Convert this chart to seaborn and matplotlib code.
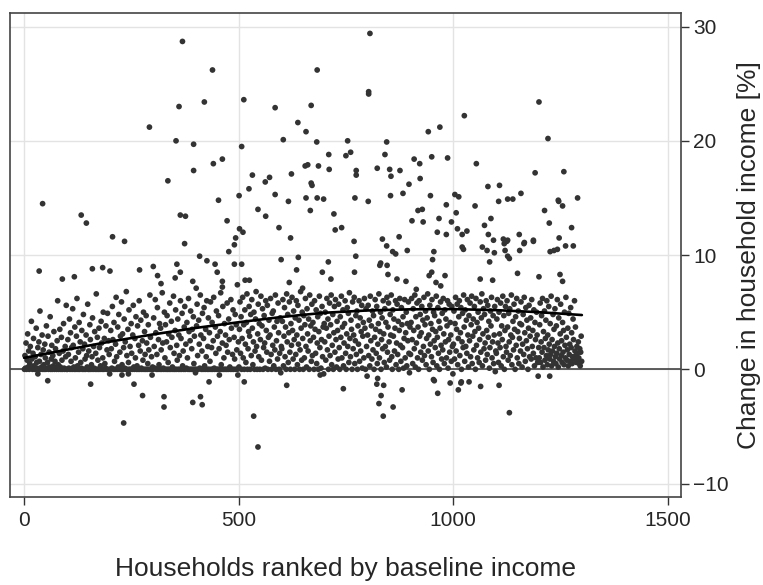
import numpy as np
import pandas as pd
import seaborn as sns
import matplotlib.pyplot as plt

sns.set_style('white')
plt.rcParams['font.family'] = ['Liberation Sans', 'DejaVu Sans']

# households far off the main band (rank, change in %)
outlier_rank = [
    369, 439, 361, 420, 512, 292, 354, 395, 507, 462, 441, 395, 335, 532, 524, 501, 453,
    806, 683, 803, 803, 585, 669, 638, 657, 604, 682, 754, 845, 710, 750, 761, 841, 942,
    969, 1026, 909, 922, 950, 987, 1054, 655, 661, 686, 711, 823, 852, 876, 855, 774, 774,
    623, 562, 572, 669, 671, 897, 923, 1081, 1108, 585, 657, 683, 698, 771, 854, 883, 947,
    1004, 1013, 1200, 1221, 1191, 1258, 1158, 1127, 1139, 1290, 1245,
    43, 133, 145, 206, 234, 364, 376, 374, 473, 477, 545, 502, 510, 493, 490, 409, 426,
    445, 356, 490, 507, 35, 159, 183, 200, 269, 301, 364, 450, 89, 117, 311, 319, 352,
    393, 401, 462, 462, 515, 525, 497,
    616, 563, 667, 722, 802, 984, 918, 928, 904, 930, 967, 996, 1007, 1051, 1106, 1088,
    1073, 594, 725, 740, 621, 769, 874, 835, 845, 859, 866, 893, 963, 984, 1010, 1021,
    1021, 1024, 1032, 1082, 1094, 1117, 1125, 1068, 1079, 1096, 1121, 1127, 955, 599, 639,
    709, 773, 831, 829, 846, 952, 1085, 635, 695, 715, 770, 848, 869, 890, 914, 950, 944,
    960, 971, 981, 1063, 1092, 618, 649,
    1246, 1255, 1213, 1224, 1276, 1119, 1127, 1154, 1166, 1165, 1187, 1187, 1155, 1247,
    1262, 1280, 1226, 1235, 1243, 1131, 1150, 1200, 1249, 1255,
    55, 155, 256, 276, 232, 326, 326, 393, 411, 415, 431, 513, 535, 545, 612, 744, 822,
    838, 832, 827, 837, 860, 881, 956, 964, 1012, 1019, 1037, 1064, 1107, 1131, 32, 228,
    243, 455, 690, 824, 954, 993, 1018, 1225,
]
outlier_change = [
    28.7, 26.2, 23.0, 23.4, 23.6, 21.2, 20.0, 19.7, 19.5, 18.4, 18.0, 17.4, 16.5, 17.0, 15.8, 15.2, 14.8,
    29.4, 26.2, 24.3, 24.1, 22.9, 23.1, 21.6, 20.8, 20.1, 19.9, 20.0, 19.9, 18.8, 18.7, 19.0, 18.8, 20.8,
    21.2, 22.2, 18.4, 18.0, 18.6, 18.5, 18.0, 17.8, 17.9, 17.8, 17.5, 17.6, 17.5, 17.4, 16.9, 17.4, 17.0,
    17.1, 16.4, 16.8, 16.3, 16.1, 16.2, 16.7, 16.0, 16.1, 15.3, 15.0, 15.0, 14.9, 15.0, 15.2, 15.4, 15.2,
    15.3, 15.1, 23.4, 20.2, 17.2, 17.3, 15.4, 14.9, 14.9, 15.0, 14.8,
    14.5, 13.5, 12.8, 11.6, 11.2, 13.5, 13.4, 11.0, 13.0, 10.3, 14.0, 12.3, 12.0, 11.5, 10.9, 9.9, 9.5,
    9.2, 9.2, 9.2, 9.2, 8.6, 8.8, 8.9, 8.6, 8.7, 9.0, 8.5, 8.5, 7.9, 8.1, 8.2, 7.5, 8.0,
    7.7, 7.1, 7.7, 7.2, 7.8, 7.8, 7.4,
    14.7, 13.4, 13.9, 13.6, 14.7, 14.4, 13.9, 14.0, 13.0, 12.9, 13.2, 12.9, 13.7, 14.3, 14.7, 13.2,
    12.6, 12.4, 12.2, 12.4, 11.5, 11.2, 11.6, 11.4, 10.8, 10.3, 10.1, 10.4, 12.0, 11.8, 12.3, 11.8,
    10.7, 10.5, 12.1, 11.8, 11.3, 11.4, 11.2, 10.7, 10.4, 10.2, 10.4, 9.9, 10.3, 9.6, 9.8,
    9.4, 9.9, 9.3, 9.1, 9.1, 9.6, 9.4, 8.7, 8.5, 7.9, 8.5, 8.3, 7.9, 7.7, 7.0, 8.5, 8.2,
    7.6, 7.3, 8.2, 7.9, 7.8, 7.6, 7.1,
    14.7, 14.3, 13.9, 12.8, 12.4, 11.0, 11.3, 11.8, 11.1, 11.0, 11.3, 11.2, 10.4, 11.5,
    10.8, 10.8, 10.3, 10.4, 10.5, 9.7, 8.4, 8.1, 8.3, 7.7,
    -1.0, -1.3, -1.3, -2.3, -4.7, -2.4, -3.3, -2.9, -2.4, -3.1, -1.1, -1.1, -4.1, -6.8, -1.4, -1.7, -1.3,
    -1.4, -2.3, -3.0, -4.1, -3.3, -1.8, -1.0, -2.1, -1.8, -1.1, -1.1, -1.5, -1.4, -3.8, -0.4, -0.5,
    -0.4, -0.5, -0.5, -0.8, -0.9, -1.2, -1.2, -0.6,
]

# main band, one list per block of 100 ranked households
band_blocks = [
    [0.0, 1.2, 0.1, 2.3, 0.0, 0.8, 3.1, 0.2, 1.6, 0.0, 0.5, 2.0, 0.1, 4.2, 0.9, 0.0, 1.4, 2.7, 0.3, 0.0,
     1.1, 0.0, 3.6, 0.6, 0.1, 1.9, 0.0, 2.4, 0.7, 5.1, 0.0, 1.3, 0.2, 3.0, 0.0, 1.7, 0.4, 0.0, 2.2, 1.0,
     0.0, 3.8, 0.1, 0.6, 2.9, 0.0, 1.5, 0.2, 4.6, 0.0, 0.9, 2.1, 0.0, 1.2, 0.3, 3.3, 0.0, 0.7, 1.8, 0.1,
     0.0, 2.5, 6.0, 0.4, 0.0, 1.4, 3.5, 0.2, 0.0, 2.8, 0.8, 0.0, 1.6, 4.0, 0.1, 0.0, 2.0, 1.1, 5.6, 0.0],
    [0.0, 2.6, 1.3, 0.1, 4.4, 0.0, 3.2, 0.7, 1.9, 0.0, 5.3, 2.1, 0.2, 0.0, 3.7, 1.0, 0.0, 2.9, 6.2, 0.3,
     0.0, 1.5, 4.1, 0.0, 2.4, 0.6, 0.1, 3.4, 0.0, 1.8, 4.8, 0.0, 2.2, 0.9, 0.0, 3.0, 1.2, 0.2, 5.7, 0.0,
     1.6, 0.0, 3.9, 2.6, 0.0, 0.4, 1.1, 4.5, 0.0, 2.0, 0.1, 3.3, 0.0, 1.4, 6.6, 0.0, 2.8, 0.8, 0.0, 3.6,
     1.9, 0.0, 0.3, 4.2, 2.3, 0.0, 1.0, 5.0, 0.0, 2.7, 0.5, 0.1, 3.8, 0.0, 1.7, 4.9, 0.0, 2.5, 1.3, -0.4],
    [0.0, 3.4, 1.8, 0.1, 5.5, 2.6, 0.0, 4.1, 0.7, 0.0, 2.2, 6.3, 1.1, 0.0, 3.7, 0.2, 4.8, 0.0, 1.5, 2.9,
     0.0, 5.9, 0.4, 3.1, 0.0, 1.9, 4.4, 0.1, 2.4, 0.0, 6.8, 1.2, 0.0, 3.5, 0.6, 5.2, 0.0, 2.0, 0.0, 4.0,
     1.4, 0.0, 3.0, 5.6, 0.2, 0.0, 2.7, 1.0, 4.6, 0.0, 0.3, 3.8, 0.0, 2.1, 6.0, 0.0, 1.6, 4.3, 0.1, 0.0,
     2.5, 0.8, 5.0, 0.0, 3.3, 1.3, 0.0, 4.7, 2.3, 0.0, 0.5, 3.9, 1.7, 0.0, 6.5, 2.8, 0.0, 1.1, -0.5, 0.2],
    [0.0, 4.5, 2.0, 0.1, 6.1, 3.2, 0.0, 1.3, 5.4, 0.0, 2.6, 0.4, 4.0, 0.0, 3.6, 1.7, 0.0, 6.7, 2.3, 0.1,
     0.0, 5.0, 1.0, 3.9, 0.0, 2.4, 4.7, 0.0, 0.6, 3.1, 0.0, 5.8, 1.9, 0.0, 4.2, 2.8, 0.2, 0.0, 6.4, 1.4,
     0.0, 3.4, 5.2, 0.0, 2.1, 0.8, 4.4, 0.0, 3.0, 1.2, 0.0, 6.0, 2.7, 0.0, 4.9, 0.3, 1.6, 0.0, 3.7, 5.5,
     0.0, 2.2, 0.1, 4.1, 1.0, 0.0, 6.2, 3.3, 0.0, 2.5, 5.1, 0.0, 1.8, 3.5, 0.0, 4.6, 0.5, 2.9, 0.0, -0.3],
    [0.0, 3.8, 5.7, 1.2, 0.0, 4.3, 2.2, 0.1, 6.5, 3.0, 0.0, 1.6, 4.9, 0.0, 2.7, 5.4, 0.3, 0.0, 3.5, 1.1,
     6.0, 0.0, 2.0, 4.5, 0.0, 3.2, 0.7, 5.9, 0.0, 1.9, 4.1, 0.0, 2.5, 6.3, 0.1, 0.0, 3.7, 1.4, 5.1, 0.0,
     2.9, 0.0, 4.7, 1.8, 0.0, 3.3, 6.7, 0.4, 0.0, 2.3, 5.5, 0.0, 1.0, 4.0, 0.0, 3.0, 2.1, 0.0, 5.8, 1.5,
     0.0, 4.4, 2.6, 0.2, 0.0, 6.1, 3.6, 0.0, 1.3, 5.2, 0.0, 2.8, 0.9, 4.8, 0.0, 3.9, 1.7, 0.0, -0.5, 2.4],
    [0.2, 3.5, 5.9, 1.4, 4.6, 0.0, 2.7, 6.3, 1.0, 3.9, 0.0, 5.2, 2.2, 0.6, 4.1, 6.6, 0.0, 1.8, 3.3, 5.5,
     2.9, 0.0, 4.8, 1.2, 6.1, 3.6, 0.4, 2.4, 5.0, 0.0, 1.6, 4.4, 6.8, 2.0, 0.0, 3.1, 5.7, 1.1, 4.0, 0.0,
     2.6, 6.4, 0.8, 3.8, 5.3, 0.0, 1.9, 4.7, 2.3, 0.1, 6.0, 3.4, 1.5, 5.6, 0.0, 2.8, 4.3, 0.7, 3.0, 6.2,
     1.3, 0.0, 4.9, 2.1, 5.1, 0.3, 3.7, 1.7, 6.5, 0.0, 2.5, 4.2, 0.9, 5.8, 3.2, 0.0, 1.4, 4.5, -0.3, 2.0],
    [1.8, 4.2, 6.1, 0.3, 2.9, 5.4, 1.1, 3.7, 0.0, 6.6, 2.4, 4.8, 0.6, 3.2, 5.9, 1.5, 0.0, 4.0, 2.1, 6.3,
     3.4, 0.9, 5.1, 2.6, 0.0, 4.5, 1.3, 6.0, 3.0, 0.4, 5.6, 2.2, 4.3, 0.0, 1.7, 6.8, 3.6, 0.8, 5.0, 2.7,
     0.0, 4.7, 1.0, 3.9, 6.2, 2.0, 0.2, 5.3, 3.1, 1.6, 4.4, 0.0, 6.5, 2.5, 3.8, 0.7, 5.7, 1.2, 4.1, 2.8,
     0.0, 6.0, 3.5, 1.4, 5.2, 0.5, 2.3, 4.6, 0.0, 3.3, 6.4, 1.9, 4.9, 0.1, 2.6, 5.5, 1.1, 3.7, -0.4, 4.0],
    [2.4, 5.0, 0.8, 3.6, 6.2, 1.7, 4.4, 0.0, 2.9, 5.8, 1.2, 3.9, 6.5, 0.4, 2.1, 4.8, 0.0, 3.2, 5.5, 1.5,
     6.1, 2.6, 0.2, 4.2, 3.4, 0.9, 5.7, 1.9, 0.0, 4.6, 2.8, 6.4, 1.0, 3.7, 5.2, 0.3, 2.3, 4.0, 6.0, 1.4,
     0.0, 3.1, 5.4, 2.0, 4.9, 0.6, 6.7, 2.7, 1.1, 4.3, 3.5, 0.0, 5.9, 1.8, 3.0, 6.3, 0.5, 2.5, 4.7, 1.3,
     5.1, 0.0, 3.8, 2.2, 6.0, 0.7, 4.5, 1.6, 3.3, 5.6, 0.1, 2.9, 4.1, 1.0, 6.2, 3.6, 0.0, 5.3, 2.0, -0.6],
    [3.0, 5.6, 1.2, 4.3, 0.3, 6.4, 2.5, 3.8, 0.9, 5.1, 1.7, 4.7, 0.0, 2.8, 6.1, 3.5, 1.4, 5.5, 0.5, 2.2,
     4.0, 6.6, 1.0, 3.3, 5.0, 0.0, 2.6, 4.5, 1.8, 6.0, 3.1, 0.6, 5.3, 2.0, 4.1, 0.2, 6.3, 1.5, 3.7, 5.8,
     2.4, 0.8, 4.8, 3.0, 6.5, 1.1, 0.0, 5.2, 2.9, 4.4, 1.6, 3.6, 6.0, 0.4, 2.3, 5.7, 1.3, 4.2, 0.0, 3.4,
     6.2, 2.1, 0.7, 5.4, 3.9, 1.9, 4.6, 0.1, 2.7, 6.1, 1.0, 3.2, 5.0, 0.3, 4.0, 2.5, 5.9, 1.4, -0.3, 3.7],
    [1.3, 4.1, 6.2, 2.6, 0.5, 5.3, 3.4, 1.8, 6.5, 0.2, 4.6, 2.3, 5.8, 1.0, 3.7, 0.0, 6.0, 2.9, 4.8, 1.5,
     3.2, 5.5, 0.8, 4.3, 2.0, 6.3, 1.2, 3.9, 5.1, 0.4, 2.7, 4.5, 6.6, 1.6, 3.0, 0.0, 5.6, 2.2, 4.0, 1.1,
     6.1, 3.5, 0.6, 5.0, 2.5, 4.7, 1.9, 3.3, 6.4, 0.3, 2.8, 5.4, 1.4, 4.2, 0.0, 3.6, 5.9, 2.1, 0.9, 4.9,
     1.7, 6.2, 3.1, 0.5, 5.2, 2.4, 4.4, 1.0, 3.8, 6.0, 0.1, 2.6, 5.7, 1.5, 4.1, 3.0, 0.7, 5.5, 2.0, -0.4],
    [2.2, 5.1, 0.9, 4.0, 6.3, 1.6, 3.5, 5.7, 0.4, 2.7, 4.6, 6.0, 1.2, 3.2, 5.4, 0.0, 2.4, 4.9, 1.9, 6.5,
     3.7, 0.7, 5.2, 2.0, 4.3, 1.4, 6.1, 3.0, 0.2, 4.7, 2.5, 5.8, 1.1, 3.9, 6.4, 0.5, 2.9, 4.4, 1.7, 5.5,
     3.3, 0.0, 6.2, 2.1, 4.1, 1.0, 5.0, 3.6, 0.6, 2.6, 5.9, 1.5, 4.5, 6.6, 0.3, 3.1, 5.3, 1.8, 4.8, 2.3,
     0.8, 6.0, 3.4, 1.3, 5.6, 2.8, 4.2, 0.1, 1.9, 5.1, 3.8, 6.3, 1.0, 2.4, 4.7, 0.5, 3.0, 5.5, -0.2, 1.6],
    [1.4, 4.4, 6.1, 2.3, 0.6, 5.0, 3.1, 1.9, 5.8, 0.3, 3.8, 2.6, 6.4, 1.1, 4.7, 0.0, 3.4, 5.5, 2.0, 1.5,
     6.0, 3.7, 0.8, 4.9, 2.4, 5.3, 1.2, 3.0, 6.5, 0.4, 2.8, 4.2, 1.7, 5.7, 3.5, 0.0, 4.6, 2.1, 6.2, 1.0,
     3.3, 5.1, 0.5, 2.7, 4.0, 1.6, 5.9, 3.9, 0.2, 2.2, 4.8, 1.3, 6.3, 3.2, 0.7, 5.4, 2.5, 4.3, 1.8, 0.0,
     3.6, 5.6, 1.1, 2.9, 4.5, 0.9, 6.1, 2.0, 3.4, 1.4, 5.2, 0.3, 4.1, 2.6, 1.0, 5.0, 3.0, 0.6, -0.6, 1.9],
    [1.0, 3.9, 5.8, 0.6, 2.4, 4.7, 1.5, 6.2, 0.2, 3.3, 1.9, 5.1, 0.8, 2.7, 4.3, 1.2, 6.0, 0.4, 3.0, 1.7,
     5.5, 2.2, 0.9, 4.0, 1.3, 6.4, 0.3, 2.6, 1.6, 4.8, 0.7, 3.5, 2.0, 5.3, 1.1, 0.5, 3.8, 1.4, 6.1, 2.3,
     0.2, 4.5, 1.8, 0.9, 3.1, 5.7, 1.2, 2.5, 0.6, 4.1, 1.5, 3.4, 0.4, 5.0, 2.1, 1.0, 6.3, 2.8, 0.8, 1.7,
     3.6, 0.3, 4.9, 1.3, 2.2, 0.7, 5.4, 1.9, 3.2, 0.5, 1.1, 4.4, 2.6, 0.9, 6.0, 1.6, 3.7, 1.2, 0.6, 2.0,
     1.4, 0.8, 2.4, 1.0, 0.5, 1.8, 0.3, 1.5, 2.9, 0.7],
]
block_size = 100

# fitted curve
fit_rank = [0, 100, 200, 300, 400, 500, 600, 700, 800, 900, 1000, 1100, 1200, 1300]
fit_change = [1.0, 1.72, 2.42, 3.05, 3.62, 4.12, 4.58, 4.95, 5.15, 5.25, 5.27, 5.18, 5.0, 4.75]


def build_points():
    ranks, values = list(outlier_rank), list(outlier_change)
    for k, block in enumerate(band_blocks):
        n = len(block)
        for i, v in enumerate(block):
            ranks.append(k * block_size + (i + 0.5) * block_size / n)
            values.append(v)
    return pd.DataFrame({'rank': ranks, 'change': values})


df = build_points()
fit = pd.DataFrame({'rank': fit_rank, 'change': fit_change})

fig, ax = plt.subplots(figsize=(7.63, 5.85), dpi=100)
fig.subplots_adjust(left=0.0131, right=0.8925, top=0.978, bottom=0.150)

ax.grid(True, color='#e3e3e3', linewidth=1.0, zorder=0)
ax.axhline(0, color='#333333', linewidth=1.1, zorder=1)
sns.scatterplot(data=df, x='rank', y='change', ax=ax, s=17, color='#333333',
                linewidth=0, edgecolor='none', zorder=2)
sns.lineplot(data=fit, x='rank', y='change', ax=ax, color='black', linewidth=1.9, zorder=3)

ax.set_xlim(-33, 1531)
ax.set_ylim(-11.2, 31.2)
ax.set_xticks([0, 500, 1000, 1500])
ax.set_yticks([-10, 0, 10, 20, 30])

ax.yaxis.tick_right()
ax.yaxis.set_label_position('right')
ax.tick_params(axis='both', direction='out', length=6, width=1, color='#333333',
               labelsize=15, bottom=True, right=True, left=False)
ax.tick_params(axis='y', pad=3)
ax.tick_params(axis='x', pad=4)
for spine in ax.spines.values():
    spine.set_color('#444444')
    spine.set_linewidth(1.2)

ax.set_xlabel('Households ranked by baseline income', fontsize=19, labelpad=19)
ax.set_ylabel('Change in household income [%]', fontsize=19, labelpad=6)

plt.savefig('out.png', dpi=100)
